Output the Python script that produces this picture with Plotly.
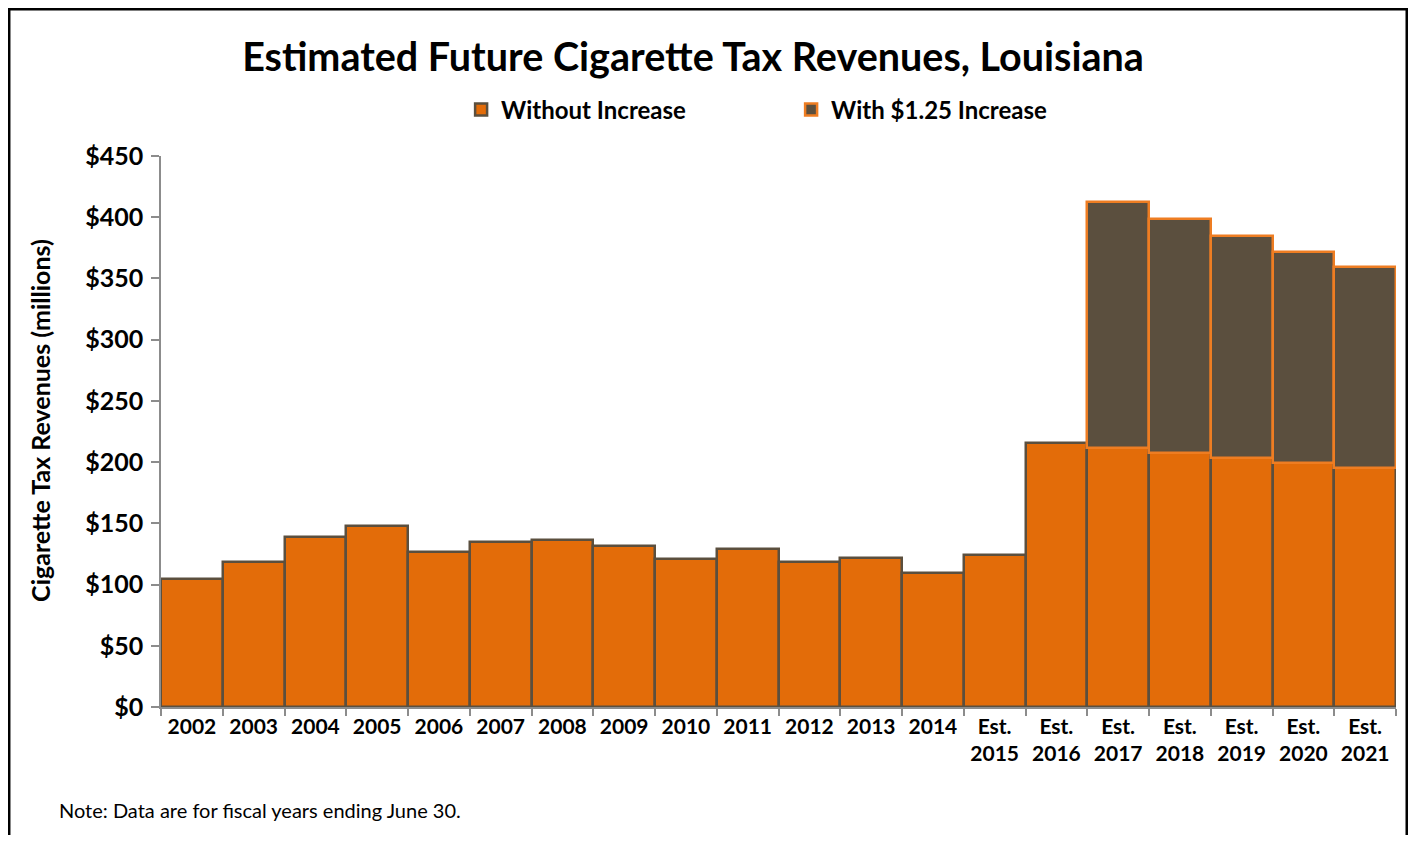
import plotly.graph_objects as go

years = ["2002", "2003", "2004", "2005", "2006", "2007", "2008", "2009", "2010",
         "2011", "2012", "2013", "2014", "Est.<br>2015", "Est.<br>2016",
         "Est.<br>2017", "Est.<br>2018", "Est.<br>2019", "Est.<br>2020", "Est.<br>2021"]
without_increase = [104.5, 118.7, 139.0, 148.1, 126.3, 134.5, 136.4, 131.7, 120.6,
                    129.0, 118.7, 121.7, 109.2, 123.9, 215.8,
                    211.5, 207.5, 203.4, 198.9, 195.3]
with_increase = [None, None, None, None, None, None, None, None, None,
                 None, None, None, None, None, None,
                 412.7, 398.5, 384.8, 371.7, 359.2]
y_ticks = [0, 50, 100, 150, 200, 250, 300, 350, 400, 450]
y_tick_labels = ["$0", "$50", "$100", "$150", "$200", "$250", "$300", "$350", "$400", "$450"]

FONT = "Lato"
ORANGE = "#E36C09"
DARK = "#5B4F3E"
LIGHT_ORANGE = "#EE7D22"

extra = [None if w is None else w - b for w, b in zip(with_increase, without_increase)]
bases = [None if w is None else b for w, b in zip(with_increase, without_increase)]

fig = go.Figure()
fig.add_trace(go.Bar(
    x=years, y=without_increase, name="Without Increase",
    marker=dict(color=ORANGE, line=dict(color=DARK, width=2.5)),
))
fig.add_trace(go.Bar(
    x=years, y=extra, base=bases, name="With $1.25 Increase",
    marker=dict(color=DARK, line=dict(color=LIGHT_ORANGE, width=2.5)),
))

fig.update_layout(
    width=1400, height=827,
    margin=dict(l=153, r=12, t=148, b=128),
    paper_bgcolor="white", plot_bgcolor="white",
    barmode="overlay", bargap=0,
    font=dict(family=FONT, color="black"),
    title=dict(text="Estimated Future Cigarette Tax Revenues, Louisiana",
               x=0.4893, xanchor="center", y=0.9408, yanchor="middle",
               font=dict(size=39.5, family=FONT, color="black", weight="bold")),
    showlegend=True,
    legend=dict(orientation="h", x=0.243, xanchor="left", y=1.0835, yanchor="middle",
                entrywidth=285, entrywidthmode="pixels", traceorder="normal",
                font=dict(size=24, family=FONT, color="black", weight="bold"),
                itemclick=False, bgcolor="rgba(0,0,0,0)"),
    xaxis=dict(type="category", showline=True, linecolor="#8C8C8C", linewidth=1.5,
               ticks="outside", tickson="boundaries", ticklen=7, tickcolor="#8C8C8C",
               tickwidth=1.5, showgrid=False,
               tickfont=dict(size=21, family=FONT, color="black", weight="bold")),
    yaxis=dict(range=[0, 450], tickmode="array", tickvals=y_ticks, ticktext=y_tick_labels,
               showline=True, linecolor="#8C8C8C", linewidth=1.5, ticks="outside", ticklen=8,
               tickcolor="#8C8C8C", tickwidth=1.5, showgrid=False, zeroline=False,
               ticklabelstandoff=3,
               tickfont=dict(size=25, family=FONT, color="black", weight="bold")),
)

fig.add_annotation(text="Cigarette Tax Revenues (millions)", textangle=-90,
                   xref="paper", yref="paper", x=-0.098, y=0.521,
                   xanchor="center", yanchor="middle", showarrow=False,
                   font=dict(size=25, family=FONT, color="black", weight="bold"))

fig.add_annotation(text="Note: Data are for fiscal years ending June 30.",
                   xref="paper", yref="paper", x=-0.0842, y=-0.187,
                   xanchor="left", yanchor="middle", showarrow=False,
                   font=dict(size=20, family=FONT, color="black"))

fig.add_shape(type="rect", xref="paper", yref="paper",
              x0=-0.1229, x1=1.0087, y0=-0.30, y1=1.2664,
              line=dict(color="black", width=2.5), fillcolor="rgba(0,0,0,0)", layer="below")

fig.write_html("out.html")
